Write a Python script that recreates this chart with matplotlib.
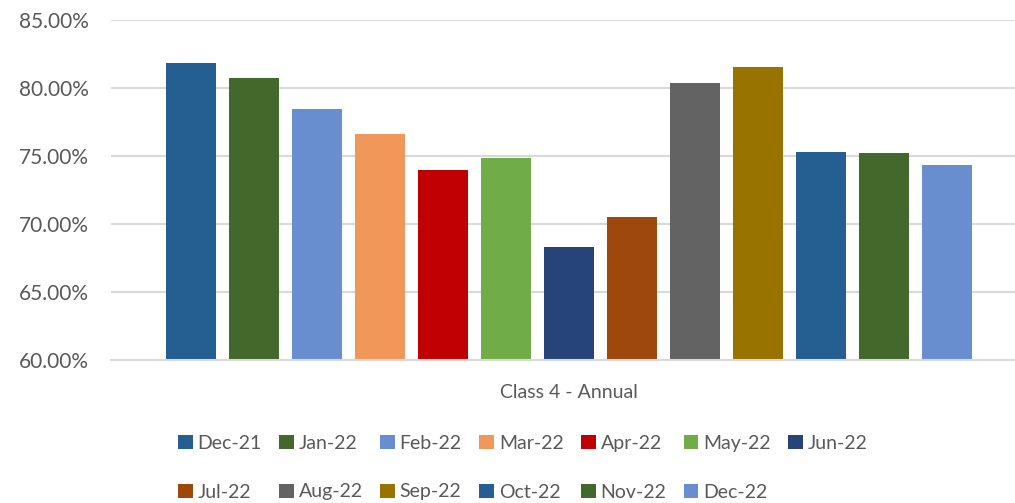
import matplotlib
matplotlib.use("Agg")
import matplotlib.pyplot as plt
from matplotlib.patches import Patch
from matplotlib.ticker import FuncFormatter

plt.rcParams['font.family'] = ['Lato', 'DejaVu Sans']

months = ["Dec-21", "Jan-22", "Feb-22", "Mar-22", "Apr-22", "May-22", "Jun-22",
          "Jul-22", "Aug-22", "Sep-22", "Oct-22", "Nov-22", "Dec-22"]
values = [81.84, 80.74, 78.46, 76.62, 73.97, 74.85, 68.31,
          70.51, 80.37, 81.54, 75.29, 75.22, 74.34]
colors = ["#255E91", "#43682B", "#698ED0", "#F1975A", "#C00000", "#70AD47", "#264478",
          "#9E480E", "#636363", "#997300", "#255E91", "#43682B", "#698ED0"]
category = "Class 4 - Annual"
yticks = [60, 65, 70, 75, 80, 85]

text_color = "#595959"
grid_color = "#D9D9D9"

fig = plt.figure(figsize=(10.15, 5.03), dpi=100)
ax = fig.add_axes([111 / 1015, 143 / 503, 904 / 1015, 340 / 503])

base = yticks[0]
positions = list(range(len(months)))
ax.bar(positions, [v - base for v in values], bottom=base, width=50 / 63,
       color=colors, zorder=3)

ax.set_ylim(yticks[0], yticks[-1])
ax.set_xlim(-80 / 63, 824 / 63)
ax.set_yticks(yticks)
ax.yaxis.set_major_formatter(FuncFormatter(lambda v, _: f"{v:.2f}%"))
ax.tick_params(axis="y", length=0, pad=16, labelsize=15, labelcolor=text_color)
ax.set_xticks([(len(months) - 1) / 2])
ax.set_xticklabels([category])
ax.tick_params(axis="x", length=0, pad=17, labelsize=14, labelcolor=text_color)

ax.grid(axis="y", color=grid_color, linewidth=1.5, zorder=0)
for side in ("top", "right", "left"):
    ax.spines[side].set_visible(False)
ax.spines["bottom"].set_color(grid_color)
ax.spines["bottom"].set_linewidth(1.5)
ax.spines["bottom"].set_zorder(4)

# Legend laid out row by row: 7 entries on the first row, 6 on the second
ncol = 7
order = []
for j in range(ncol):
    order.append(j)
    if j + ncol < len(months):
        order.append(j + ncol)
handles = [Patch(facecolor=colors[i], edgecolor="none") for i in order]
labels = [months[i] for i in order]
fig.legend(handles, labels, ncol=ncol, loc="upper left",
           bbox_to_anchor=(178 / 1015, 1 - 435 / 503),
           frameon=False, fontsize=14, labelcolor=text_color,
           handlelength=0.75, handleheight=0.75, handletextpad=0.25,
           columnspacing=0.9, labelspacing=1.62, borderpad=0, borderaxespad=0)

fig.savefig("out.png", dpi=100, facecolor="white")
